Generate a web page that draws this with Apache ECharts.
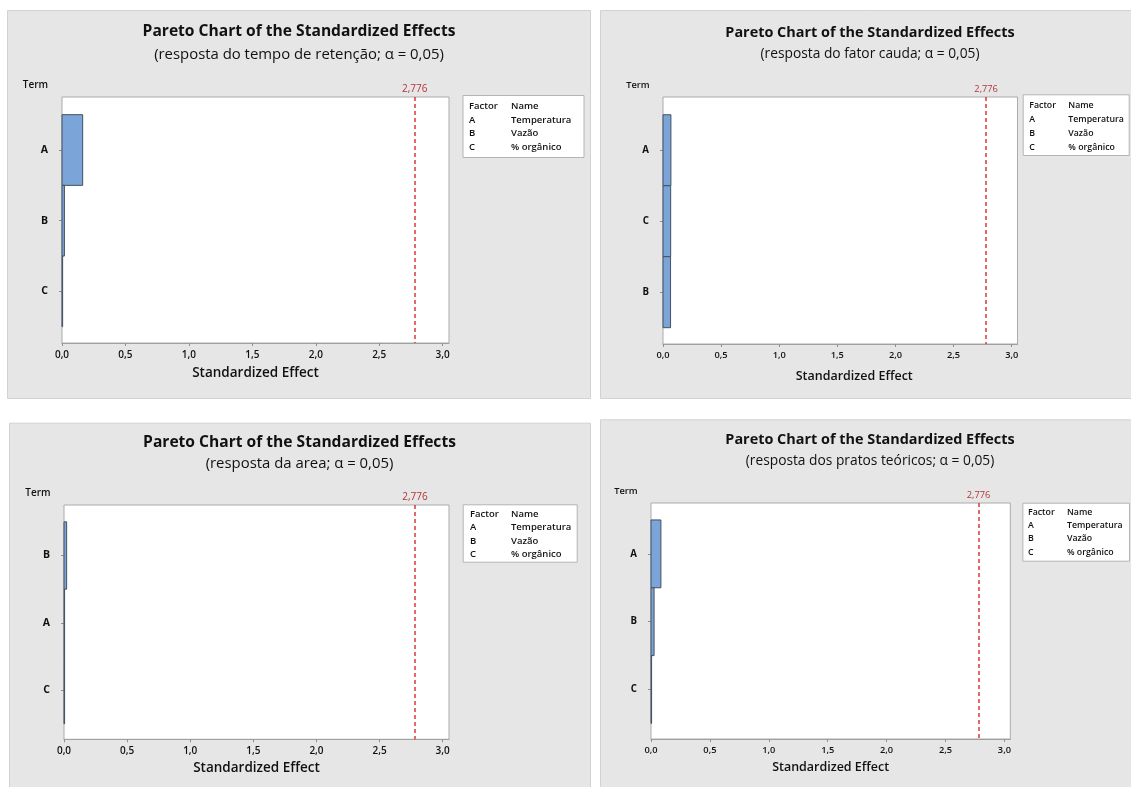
<!DOCTYPE html>
<html>
<head>
<meta charset="utf-8">
<script src="https://cdn.jsdelivr.net/npm/echarts@6/dist/echarts.min.js"></script>
<style>
  html, body { margin: 0; padding: 0; background: #ffffff; }
  #chart { width: 1131px; height: 787px; }
</style>
</head>
<body>
<div id="chart"></div>
<script>
// ---- data ----
const chartTitle = 'Pareto Chart of the Standardized Effects';
const subtitles = [
  '(resposta do tempo de retenção; α = 0,05)',
  '(resposta do fator cauda; α = 0,05)',
  '(resposta da area; α = 0,05)',
  '(resposta dos pratos teóricos; α = 0,05)'
];
// terms in Pareto order (largest effect first) and their standardized effects
const termsRetencao = ['A', 'B', 'C'];
const effectsRetencao = [0.163, 0.019, 0.005];
const termsCauda = ['A', 'C', 'B'];
const effectsCauda = [0.068, 0.066, 0.065];
const termsArea = ['B', 'A', 'C'];
const effectsArea = [0.021, 0.004, 0.003];
const termsPratos = ['A', 'B', 'C'];
const effectsPratos = [0.084, 0.026, 0.003];
const criticalValue = 2.776;
const criticalLabel = '2,776';
const factorCodes = ['A', 'B', 'C'];
const factorNames = ['Temperatura', 'Vazão', '% orgânico'];
const legendHeader = ['Factor', 'Name'];
const termLabel = 'Term';
const xAxisTitle = 'Standardized Effect';

// ---- layout of the four panels ----
const FONT = '"Open Sans", "Noto Sans", sans-serif';
const panels = [
  { terms: termsRetencao, effects: effectsRetencao, sub: subtitles[0],
    bg: [7, 10, 583, 388], grid: { left: 62, top: 97, width: 387, height: 246 },
    cx: 299, titleY: 35, subY: 57, term: [35.5, 85], s: 1, labelMargin: 7, nameGap: 23, nameShift: 0,
    legend: { x: 462.5, y: 95, w: 121, h: 62, rows: [106, 120, 133.5, 147], cols: [469, 511] } },
  { terms: termsCauda, effects: effectsCauda, sub: subtitles[1],
    bg: [600, 10, 545, 388], grid: { left: 663, top: 97, width: 354.5, height: 247 },
    cx: 870, titleY: 35.7, subY: 56.7, term: [638, 85], s: 0.925, labelMargin: 7, nameGap: 26, nameShift: 14,
    legend: { x: 1022.7, y: 94.3, w: 106, h: 60.7, rows: [105, 119.3, 133.3, 147.7], cols: [1029.3, 1068.3] } },
  { terms: termsArea, effects: effectsArea, sub: subtitles[2],
    bg: [9, 422.7, 581, 370], grid: { left: 64, top: 505, width: 385, height: 234.3 },
    cx: 299.5, titleY: 446, subY: 466.7, term: [38, 493.3], s: 1, labelMargin: 6.5, nameGap: 22, nameShift: 0,
    legend: { x: 462.7, y: 504.3, w: 114, h: 57.4, rows: [514.3, 527.7, 541, 554], cols: [470, 511] } },
  { terms: termsPratos, effects: effectsPratos, sub: subtitles[3],
    bg: [600, 419.3, 545, 370], grid: { left: 651, top: 503, width: 359.3, height: 236 },
    cx: 870, titleY: 443.3, subY: 463.3, term: [626, 491], s: 0.925, labelMargin: 6.5, nameGap: 22, nameShift: 0,
    legend: { x: 1022.4, y: 502.7, w: 106.6, h: 58, rows: [512, 525, 538.7, 552.3], cols: [1028, 1067] } }
];

const fmtComma = v => v.toFixed(1).replace('.', ',');
const INK = '#111111';

const grids = [], xAxes = [], yAxes = [], series = [], titles = [], graphics = [];

panels.forEach((p, i) => {
  const s = p.s;
  // panel background
  graphics.push({
    type: 'rect', z: -100, silent: true,
    shape: { x: p.bg[0] + 0.5, y: p.bg[1] + 0.5, width: p.bg[2], height: p.bg[3] },
    style: { fill: '#e6e6e6', stroke: '#d2d2d2', lineWidth: 1 }
  });
  // titles
  titles.push({
    text: chartTitle, left: p.cx, top: p.titleY - 11 * s, textAlign: 'center', padding: 0,
    textStyle: { fontFamily: FONT, fontWeight: 'bold', fontSize: 15.6 * s, color: INK }
  });
  titles.push({
    text: p.sub, left: p.cx, top: p.subY - 10 * s, textAlign: 'center', padding: 0,
    textStyle: { fontFamily: FONT, fontWeight: 'normal', fontSize: 14.9 * s, color: INK }
  });
  // "Term" heading
  graphics.push({
    type: 'text', z: 10, x: p.term[0], y: p.term[1],
    style: { text: termLabel, font: `600 ${10 * s}px ${FONT}`, fill: INK, textAlign: 'center', textVerticalAlign: 'middle' }
  });
  // factor legend box
  const L = p.legend;
  const legChildren = [{
    type: 'rect', shape: { x: L.x + 0.5, y: L.y + 0.5, width: L.w, height: L.h },
    style: { fill: '#ffffff', stroke: '#b4b4b4', lineWidth: 1 }
  }];
  const rowsText = [legendHeader].concat(factorCodes.map((c, k) => [c, factorNames[k]]));
  rowsText.forEach((r, k) => {
    r.forEach((t, c) => {
      legChildren.push({
        type: 'text', x: L.cols[c], y: L.rows[k],
        style: { text: t, font: `600 ${9.5 * s}px ${FONT}`, fill: INK, textVerticalAlign: 'middle' }
      });
    });
  });
  graphics.push({ type: 'group', z: 10, children: legChildren });

  grids.push({
    left: p.grid.left, top: p.grid.top, width: p.grid.width, height: p.grid.height,
    show: true, backgroundColor: '#ffffff', borderColor: '#ababab', borderWidth: 1, containLabel: false
  });
  xAxes.push({
    type: 'value', gridIndex: i, min: 0, max: 3.05, interval: 0.5,
    axisLine: { show: true, lineStyle: { color: '#a0a0a0', width: 1 } },
    axisTick: { show: true, length: 3, lineStyle: { color: '#909090' } },
    splitLine: { show: false },
    axisLabel: { formatter: fmtComma, showMaxLabel: false, margin: p.labelMargin,
      fontFamily: FONT, fontWeight: 600, fontSize: 10 * s, color: INK },
    name: xAxisTitle, nameLocation: 'middle', nameGap: p.nameGap,
    nameTextStyle: { fontFamily: FONT, fontWeight: 600, fontSize: 13.5 * s, color: INK,
      padding: p.nameShift ? [0, 0, 0, 2 * p.nameShift] : 0 }
  });
  yAxes.push({
    type: 'value', gridIndex: i, inverse: true, min: 0.25, max: 3.73,
    axisLine: { show: false },
    splitLine: { show: false },
    axisTick: { show: true, length: 3, customValues: [1, 2, 3], lineStyle: { color: '#909090' } },
    axisLabel: { customValues: [1, 2, 3], margin: 14, formatter: v => p.terms[Math.round(v) - 1] || '',
      fontFamily: FONT, fontWeight: 'bold', fontSize: 10.5 * s, color: INK }
  });
  series.push({
    type: 'custom', xAxisIndex: i, yAxisIndex: i, silent: true,
    data: p.effects.map((v, k) => [v, k + 1]),
    encode: { x: 0, y: 1 },
    renderItem: (params, api) => {
      const v = api.value(0), pos = api.value(1);
      const a = api.coord([0, pos]);
      const b = api.coord([v, pos]);
      const h = api.size([0, 1])[1];
      return {
        type: 'rect',
        shape: { x: a[0], y: a[1] - h / 2, width: Math.max(b[0] - a[0], 0.6), height: h },
        style: { fill: '#7ba4d9', stroke: '#44505e', lineWidth: 1 }
      };
    },
    markLine: {
      silent: true, symbol: 'none', animation: false,
      lineStyle: { color: '#d93a3a', type: [4, 3], width: 1.5 },
      label: { show: true, position: 'start', distance: 3, formatter: criticalLabel,
        fontFamily: FONT, fontSize: 10 * s, color: '#b23535' },
      data: [{ xAxis: criticalValue }]
    }
  });
});

const chart = echarts.init(document.getElementById('chart'), null, { renderer: 'canvas' });
chart.setOption({
  animation: false,
  backgroundColor: '#ffffff',
  title: titles,
  grid: grids,
  xAxis: xAxes,
  yAxis: yAxes,
  series: series,
  graphic: graphics
});
</script>
</body>
</html>
